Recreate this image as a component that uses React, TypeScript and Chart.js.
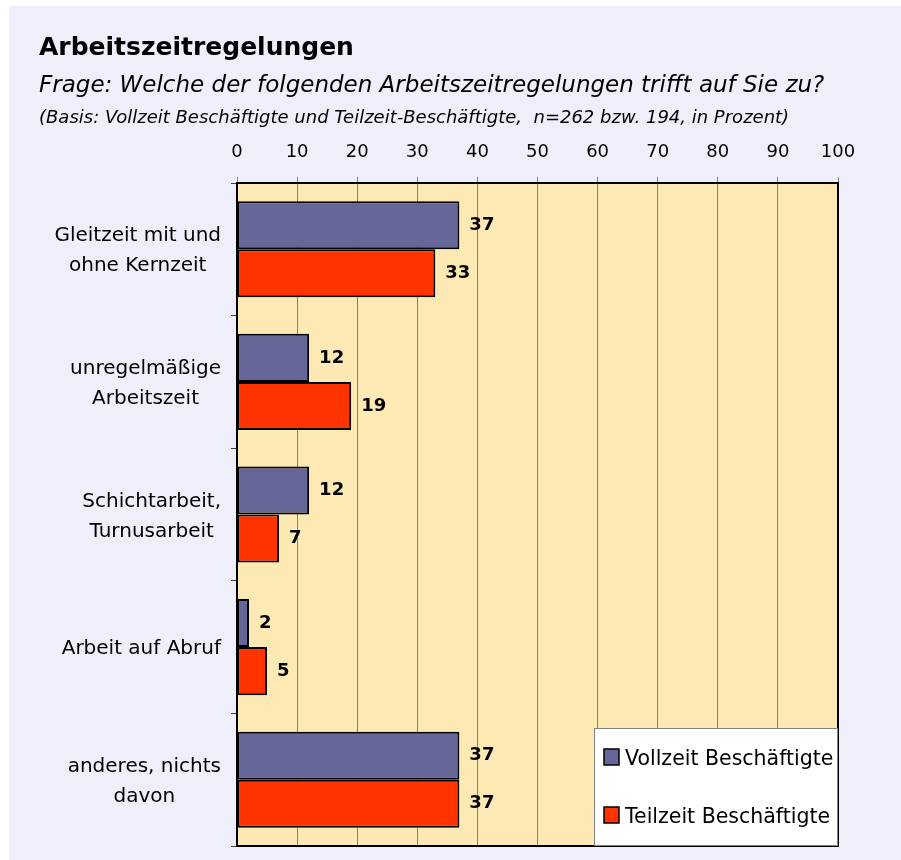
import React, { useEffect, useRef } from "react";
import { Chart, registerables } from "chart.js";

Chart.register(...registerables);

const categories: string[][] = [
  ["Gleitzeit mit und", "ohne Kernzeit"],
  ["unregelmäßige", "Arbeitszeit"],
  ["Schichtarbeit,", "Turnusarbeit"],
  ["Arbeit auf Abruf"],
  ["anderes, nichts", "davon"],
];
const vollzeit = [37, 12, 12, 2, 37];
const teilzeit = [33, 19, 7, 5, 37];
const seriesNames = ["Vollzeit Beschäftigte", "Teilzeit Beschäftigte"];
const seriesColors = ["#666699", "#FF3300"];
const title = "Arbeitszeitregelungen";
const subtitle = "Frage: Welche der folgenden Arbeitszeitregelungen trifft auf Sie zu?";
const basis = "(Basis: Vollzeit Beschäftigte und Teilzeit-Beschäftigte,  n=262 bzw. 194, in Prozent)";

const FONT = "'DejaVu Sans', 'Open Sans', sans-serif";

const decorPlugin = {
  id: "decor",
  beforeDraw(chart: any) {
    const { ctx, chartArea: a, width, height } = chart;
    ctx.save();
    ctx.fillStyle = "#ffffff";
    ctx.fillRect(0, 0, width, height);
    ctx.fillStyle = "#EFEFFC";
    ctx.fillRect(9, 6, width - 9, height - 6);
    ctx.fillStyle = "#FDE9B3";
    ctx.fillRect(a.left, a.top, a.right - a.left, a.bottom - a.top);
    ctx.restore();
  },
  beforeDatasetsDraw(chart: any) {
    const { ctx, chartArea: a } = chart;
    ctx.save();
    ctx.strokeStyle = "#000";
    ctx.lineWidth = 2;
    ctx.strokeRect(a.left, a.top, a.right - a.left, a.bottom - a.top);
    ctx.restore();
  },
  afterDatasetsDraw(chart: any) {
    const { ctx } = chart;
    ctx.save();
    ctx.fillStyle = "#000";
    ctx.font = `bold 18px ${FONT}`;
    ctx.textAlign = "left";
    ctx.textBaseline = "middle";
    chart.data.datasets.forEach((ds: any, di: number) => {
      const meta = chart.getDatasetMeta(di);
      meta.data.forEach((bar: any, i: number) => {
        ctx.fillText(String(ds.data[i]), bar.x + 10, bar.y);
      });
    });
    ctx.restore();
  },
  afterDraw(chart: any) {
    const { ctx } = chart;
    const y = chart.scales.y;
    ctx.save();
    ctx.fillStyle = "#000";
    ctx.textBaseline = "alphabetic";
    ctx.textAlign = "left";
    ctx.font = `bold 25px ${FONT}`;
    ctx.fillText(title, 39, 55);
    ctx.font = `italic 23px ${FONT}`;
    ctx.fillText(subtitle, 39, 92);
    ctx.font = `italic 18px ${FONT}`;
    ctx.fillText(basis, 39, 123);

    // category labels
    ctx.font = `20px ${FONT}`;
    ctx.textAlign = "center";
    categories.forEach((lines, i) => {
      const cy = y.getPixelForValue(i);
      const maxW = Math.max(...lines.map((l) => ctx.measureText(l).width));
      const cx = 221 - maxW / 2;
      const lh = 30;
      const startBase = cy + 7 - ((lines.length - 1) * lh) / 2;
      lines.forEach((l, k) => ctx.fillText(l, cx, startBase + k * lh));
    });

    // legend
    const lx = 594, ly = 728, lw = 244, lh2 = 118;
    ctx.fillStyle = "#ffffff";
    ctx.fillRect(lx, ly, lw, lh2);
    ctx.strokeStyle = "#808080";
    ctx.lineWidth = 1;
    ctx.strokeRect(lx + 0.5, ly + 0.5, lw - 1, lh2 - 1);
    ctx.font = `20.5px ${FONT}`;
    ctx.textAlign = "left";
    const rows = [749, 807];
    seriesNames.forEach((n, i) => {
      ctx.fillStyle = seriesColors[i];
      ctx.fillRect(604, rows[i], 15, 16);
      ctx.strokeStyle = "#000";
      ctx.lineWidth = 1.5;
      ctx.strokeRect(604, rows[i], 15, 16);
      ctx.fillStyle = "#000";
      ctx.fillText(n, 625, rows[i] + 16);
    });
    ctx.restore();
  },
};

export default function App() {
  const ref = useRef<HTMLCanvasElement | null>(null);
  useEffect(() => {
    if (!ref.current) return;
    const chart = new Chart(ref.current, {
      type: "bar",
      data: {
        labels: categories.map((c) => c.join(" ")),
        datasets: [
          {
            label: seriesNames[0],
            data: vollzeit,
            backgroundColor: seriesColors[0],
            borderColor: "#000",
            borderWidth: 2,
            borderSkipped: false,
          },
          {
            label: seriesNames[1],
            data: teilzeit,
            backgroundColor: seriesColors[1],
            borderColor: "#000",
            borderWidth: 2,
            borderSkipped: false,
          },
        ],
      },
      options: {
        indexAxis: "y",
        animation: false,
        responsive: true,
        maintainAspectRatio: false,
        layout: { padding: { left: 0, top: 0, right: 63, bottom: 14 } },
        datasets: { bar: { categoryPercentage: 0.725, barPercentage: 1 } },
        plugins: {
          legend: { display: false },
          tooltip: { enabled: false },
          title: { display: false },
        },
        scales: {
          x: {
            position: "top",
            min: 0,
            max: 100,
            ticks: {
              stepSize: 10,
              color: "#000",
              font: { family: FONT, size: 18 },
              padding: 14,
            },
            grid: { color: "#808080", lineWidth: 1, tickLength: 6 },
            border: { color: "#000", width: 2 },
            afterFit: (s: any) => {
              s.height = 183;
            },
          },
          y: {
            ticks: { color: "rgba(0,0,0,0)", font: { family: FONT, size: 18 } },
            grid: { drawOnChartArea: false, color: "#404040", tickLength: 6, offset: true },
            border: { color: "#000", width: 2 },
            afterFit: (s: any) => {
              s.width = 237;
            },
          },
        },
      },
      plugins: [decorPlugin],
    });
    return () => chart.destroy();
  }, []);
  return (
    <div style={{ position: "absolute", left: 0, top: 0, width: 901, height: 860 }}>
      <canvas ref={ref} />
    </div>
  );
}
